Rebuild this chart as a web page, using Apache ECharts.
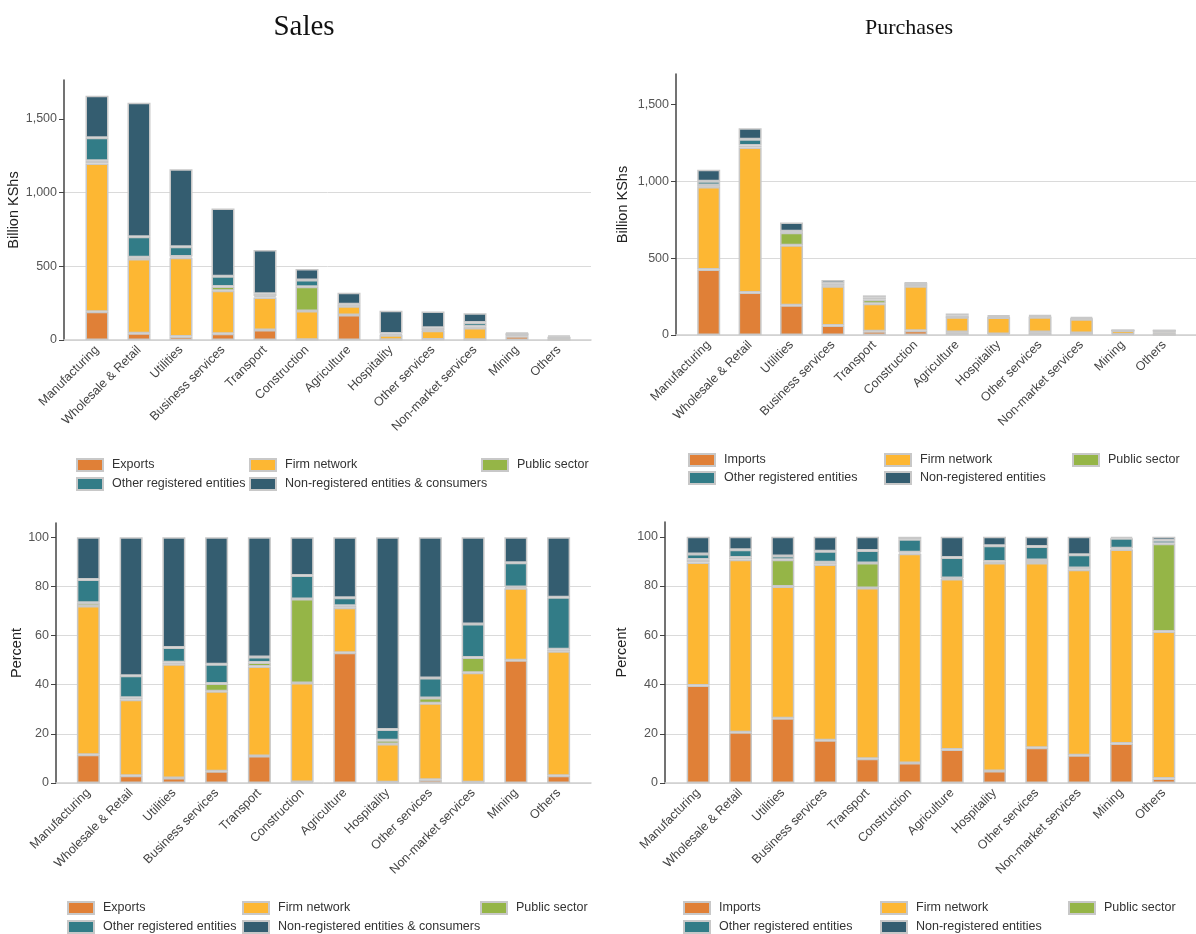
<!DOCTYPE html>
<html>
<head>
<meta charset="utf-8">
<title>Sales and purchases by sector</title>
<script src="https://cdn.jsdelivr.net/npm/echarts@6.0.0/dist/echarts.min.js"></script>
<style>
  html, body { margin: 0; padding: 0; background: #fff; }
  #chart { width: 1196px; height: 934px; }
</style>
</head>
<body>
<div id="chart"></div>
<script>
// sectors on the x axis
var categories = ['Manufacturing', 'Wholesale & Retail', 'Utilities', 'Business services', 'Transport',
    'Construction', 'Agriculture', 'Hospitality', 'Other services', 'Non-market services', 'Mining', 'Others'];

// Sales, billion KShs
var salesExports = [192, 45, 23, 43, 67, 2, 170, 1, 3, 1, 25, 1];
var salesFirm    = [1006, 504, 535, 291, 222, 194, 59, 31, 60, 81, 15, 15];
var salesPublic  = [18, 13, 9, 29, 10, 165, 3, 3, 4, 11, 0.3, 0.3];
var salesOther   = [156, 139, 66, 70, 14, 46, 11, 9, 16, 25, 5, 6.4];
var salesNonReg  = [285, 909, 525, 460, 297, 75, 78, 155, 111, 63, 5, 7.3];

// Sales, percent
var salesExportsPct = [11.5, 2.9, 2.0, 4.8, 11.0, 0.4, 53.0, 0.3, 1.3, 0.3, 49.9, 3.0];
var salesFirmPct    = [60.5, 31.0, 46.3, 32.5, 36.4, 40.3, 18.3, 15.6, 31.2, 44.6, 29.3, 50.6];
var salesPublicPct  = [1.3, 0.8, 0.8, 3.2, 1.6, 34.2, 0.8, 1.5, 2.1, 6.2, 0.6, 0.8];
var salesOtherPct   = [9.5, 8.9, 6.0, 7.8, 2.3, 9.5, 3.3, 4.4, 8.1, 13.6, 9.8, 21.2];
var salesNonRegPct  = [17.2, 56.4, 44.9, 51.7, 48.7, 15.6, 24.6, 78.2, 57.3, 35.3, 10.4, 24.4];

// Purchases, billion KShs
var purchImports = [426, 277, 193, 62, 25, 28, 19, 6, 19, 13, 5, 0.5];
var purchFirm    = [538, 944, 392, 255, 179, 290, 96, 108, 97, 90, 24, 18];
var purchPublic  = [13, 12, 80, 4, 26, 2, 1, 1, 2, 1, 0.2, 10.7];
var purchOther   = [24, 42, 11, 16, 13, 18, 12, 8, 7, 6, 1.2, 0.4];
var purchNonReg  = [75, 71, 57, 21, 15, 3, 12, 5, 5, 9, 0.2, 0.4];

// Purchases, percent
var purchImportsPct = [39.6, 20.6, 26.3, 17.4, 9.8, 8.1, 13.6, 4.9, 14.3, 11.3, 16.0, 1.8];
var purchFirmPct    = [50.0, 70.1, 53.5, 71.3, 69.4, 85.0, 69.2, 84.4, 75.0, 75.3, 78.8, 59.7];
var purchPublicPct  = [1.2, 0.9, 10.9, 1.0, 10.1, 0.6, 0.5, 0.7, 1.3, 0.7, 0.5, 35.7];
var purchOtherPct   = [2.2, 3.1, 1.5, 4.4, 5.1, 5.3, 8.3, 6.4, 5.5, 5.4, 4.1, 1.4];
var purchNonRegPct  = [7.0, 5.3, 7.8, 5.9, 5.6, 1.0, 8.4, 3.6, 3.9, 7.3, 0.6, 1.4];

var amountTicks = [0, 500, 1000, 1500];
var percentTicks = [0, 20, 40, 60, 80, 100];

var colors = ['#E08037', '#FDB733', '#95B547', '#327C87', '#345D70'];
var FONT = '"Liberation Sans", Arial, sans-serif';

var chart = echarts.init(document.getElementById('chart'));

// panel layout: bg = axis frame, bars = area where the categories sit
var panels = [
    { bg: {left: 64, top: 80, width: 527, height: 260}, bars: {left: 76, top: 80, width: 504, height: 260},
      max: 1764, ticks: amountTicks, name: 'Billion KShs', nameGap: 35 },
    { bg: {left: 676, top: 74, width: 520, height: 261}, bars: {left: 688, top: 74, width: 497, height: 261},
      max: 1699, ticks: amountTicks, name: 'Billion KShs', nameGap: 46 },
    { bg: {left: 56, top: 523, width: 535, height: 260}, bars: {left: 67, top: 523, width: 513, height: 260},
      max: 105.8, ticks: percentTicks, name: 'Percent', nameGap: 31 },
    { bg: {left: 665, top: 522, width: 531, height: 261}, bars: {left: 677, top: 522, width: 508, height: 261},
      max: 106, ticks: percentTicks, name: 'Percent', nameGap: 36 }
];

var seriesSets = [
    { names: ['Exports', 'Firm network', 'Public sector', 'Other registered entities', 'Non-registered entities & consumers'],
      data: [salesExports, salesFirm, salesPublic, salesOther, salesNonReg] },
    { names: ['Imports', 'Firm network', 'Public sector', 'Other registered entities', 'Non-registered entities'],
      data: [purchImports, purchFirm, purchPublic, purchOther, purchNonReg] },
    { names: ['Exports', 'Firm network', 'Public sector', 'Other registered entities', 'Non-registered entities & consumers'],
      data: [salesExportsPct, salesFirmPct, salesPublicPct, salesOtherPct, salesNonRegPct] },
    { names: ['Imports', 'Firm network', 'Public sector', 'Other registered entities', 'Non-registered entities'],
      data: [purchImportsPct, purchFirmPct, purchPublicPct, purchOtherPct, purchNonRegPct] }
];

var grid = [], xAxis = [], yAxis = [], series = [];

panels.forEach(function (p, i) {
    var bgIdx = grid.length;
    grid.push(p.bg);
    grid.push(p.bars);

    // frame: y axis with labels and gridlines, light baseline
    xAxis.push({
        gridIndex: bgIdx, type: 'value', min: 0, max: 1,
        axisLine: {show: true, lineStyle: {color: '#cfcfcf', width: 1.5}},
        axisTick: {show: false}, axisLabel: {show: false}, splitLine: {show: false}
    });
    yAxis.push({
        gridIndex: bgIdx, type: 'value', min: 0, max: p.max,
        name: p.name, nameLocation: 'middle', nameGap: p.nameGap,
        nameTextStyle: {fontFamily: FONT, fontSize: 14.5, color: '#222'},
        axisLine: {show: true, lineStyle: {color: '#444', width: 1.5}},
        axisTick: {show: true, length: 5, lineStyle: {color: '#444'}, customValues: p.ticks},
        axisLabel: {fontFamily: FONT, fontSize: 12.5, color: '#555', margin: 7, customValues: p.ticks,
            formatter: function (v) { return Number(v).toLocaleString('en-US'); }},
        splitLine: {show: true, showMaxLine: false, lineStyle: {color: '#dadada', width: 1}}
    });

    // bars
    xAxis.push({
        gridIndex: bgIdx + 1, type: 'category', data: categories,
        axisLine: {show: false}, axisTick: {show: false},
        axisLabel: {interval: 0, rotate: 45, fontFamily: FONT, fontSize: 12.5, color: '#444', margin: 8}
    });
    yAxis.push({
        gridIndex: bgIdx + 1, type: 'value', min: 0, max: p.max, show: false
    });

    var set = seriesSets[i];
    set.data.forEach(function (vals, k) {
        series.push({
            name: set.names[k],
            type: 'bar',
            stack: 'panel' + i,
            xAxisIndex: bgIdx + 1,
            yAxisIndex: bgIdx + 1,
            barWidth: 23,
            itemStyle: {color: colors[k], borderColor: '#c8c8c8', borderWidth: 1.5},
            data: vals
        });
    });
});

// one legend per item so the two-row layout is exact
function legendItem(left, top, name) {
    return {
        left: left, top: top, padding: 0, data: [name],
        itemWidth: 26, itemHeight: 12, selectedMode: false,
        icon: 'rect',
        textStyle: {fontFamily: FONT, fontSize: 12.5, color: '#333', padding: [0, 0, 0, 4]}
    };
}

var legend = [
    legendItem(76, 458, 'Exports'),
    legendItem(249, 458, 'Firm network'),
    legendItem(481, 458, 'Public sector'),
    legendItem(76, 477, 'Other registered entities'),
    legendItem(249, 477, 'Non-registered entities & consumers'),

    legendItem(688, 453, 'Imports'),
    legendItem(884, 453, 'Firm network'),
    legendItem(1072, 453, 'Public sector'),
    legendItem(688, 471, 'Other registered entities'),
    legendItem(884, 471, 'Non-registered entities'),

    legendItem(67, 901, 'Exports'),
    legendItem(242, 901, 'Firm network'),
    legendItem(480, 901, 'Public sector'),
    legendItem(67, 920, 'Other registered entities'),
    legendItem(242, 920, 'Non-registered entities & consumers'),

    legendItem(683, 901, 'Imports'),
    legendItem(880, 901, 'Firm network'),
    legendItem(1068, 901, 'Public sector'),
    legendItem(683, 920, 'Other registered entities'),
    legendItem(880, 920, 'Non-registered entities')
];

var option = {
    animation: false,
    backgroundColor: '#fff',
    title: [
        {text: 'Sales', left: 299, top: 8, textAlign: 'center',
         textStyle: {fontFamily: '"Liberation Serif", "DejaVu Serif", serif', fontSize: 29, fontWeight: 'normal', color: '#111'}},
        {text: 'Purchases', left: 904, top: 12, textAlign: 'center',
         textStyle: {fontFamily: '"Liberation Serif", "DejaVu Serif", serif', fontSize: 22, fontWeight: 'normal', color: '#111'}}
    ],
    legend: legend,
    grid: grid,
    xAxis: xAxis,
    yAxis: yAxis,
    series: series
};

chart.setOption(option);
window.onresize = chart.resize;
</script>
</body>
</html>
